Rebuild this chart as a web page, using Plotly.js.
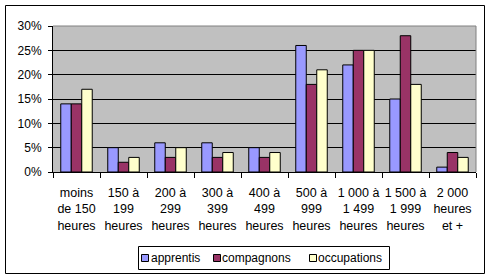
<!DOCTYPE html>
<html>
<head>
<meta charset="utf-8">
<script src="https://cdn.plot.ly/plotly-3.0.1.min.js"></script>
<style>
html,body{margin:0;padding:0;background:#fff;}
#chart{width:491px;height:279px;}
</style>
</head>
<body>
<div id="chart"></div>
<script>
var categories = [
  "moins<br>de 150<br>heures",
  "150 à<br>199<br>heures",
  "200 à<br>299<br>heures",
  "300 à<br>399<br>heures",
  "400 à<br>499<br>heures",
  "500 à<br>999<br>heures",
  "1 000 à<br>1 499<br>heures",
  "1 500 à<br>1 999<br>heures",
  "2 000<br>heures<br>et +"
];
var seriesNames = ["apprentis", "compagnons", "occupations"];
var apprentis   = [14, 5, 6, 6, 5, 26, 22, 15, 1];
var compagnons  = [14, 2, 3, 3, 3, 18, 25, 28, 4];
var occupations = [17, 3, 5, 4, 4, 21, 25, 18, 3];
var yTicks = [0, 5, 10, 15, 20, 25, 30];

var colors = ["#9999FF", "#993366", "#FFFFCC"];
var font = {family: "Liberation Sans, Arial, sans-serif", size: 12, color: "#000"};
var xfont = {family: "Liberation Sans, Arial, sans-serif", size: 12.5, color: "#000"};

var values = [apprentis, compagnons, occupations];
var data = seriesNames.map(function(name, i) {
  return {
    type: "bar", name: name, x: categories, y: values[i],
    marker: {color: colors[i], line: {color: "#000", width: 1}},
    hoverinfo: "none", showlegend: false
  };
});

// plot area geometry (px) used to place the legend box in paper coords
var L = 53, R = 476, T = 26, B = 172;
function px(x) { return (x - L) / (R - L); }
function py(y) { return (B - y) / (B - T); }

var legendSquareX = [141, 213, 309];
var legendTextX = [151, 222, 318];

var shapes = [
  {type: "line", xref: "paper", yref: "paper", x0: 0, x1: 1, y0: 1, y1: 1, line: {color: "#808080", width: 1}},
  {type: "line", xref: "paper", yref: "paper", x0: 1, x1: 1, y0: 0, y1: 1, line: {color: "#808080", width: 1}},
  {type: "rect", xref: "paper", yref: "paper", x0: px(5.5), x1: px(484.5), y0: py(273.5), y1: py(5.5), line: {color: "#000", width: 1}, layer: "above"},
  {type: "rect", xref: "paper", yref: "paper", x0: px(138.5), x1: px(389.5), y0: py(269.5), y1: py(246.5), line: {color: "#000", width: 1}, fillcolor: "#fff", layer: "above"}
];
var annotations = [];
seriesNames.forEach(function(name, i) {
  shapes.push({type: "rect", xref: "paper", yref: "paper",
    x0: px(legendSquareX[i] + 0.5), x1: px(legendSquareX[i] + 7.5),
    y0: py(261.5), y1: py(254.5),
    fillcolor: colors[i], line: {color: "#000", width: 1}, layer: "above"});
  annotations.push({xref: "paper", yref: "paper", x: px(legendTextX[i]), y: py(258),
    xanchor: "left", yanchor: "middle", showarrow: false, text: name, font: font,
    xshift: -2});
});

var layout = {
  width: 491, height: 279,
  margin: {l: L, r: 491 - R, t: T, b: 279 - B, pad: 0, autoexpand: false},
  paper_bgcolor: "#fff",
  plot_bgcolor: "#C0C0C0",
  font: font,
  barmode: "group",
  bargap: 0.33,
  bargroupgap: 0,
  showlegend: false,
  xaxis: {
    type: "category",
    showline: true, linecolor: "#000", linewidth: 1,
    ticks: "outside", tickson: "boundaries", ticklen: 5, tickcolor: "#000",
    showgrid: false, zeroline: false,
    tickangle: 0, tickfont: xfont, automargin: false,
    ticklabelstandoff: 9
  },
  yaxis: {
    range: [0, 30], tickvals: yTicks, ticktext: yTicks.map(function(v){return v + "%";}),
    showline: true, linecolor: "#000", linewidth: 1,
    ticks: "outside", ticklen: 4, tickcolor: "#000",
    showgrid: true, gridcolor: "#000", gridwidth: 1,
    zeroline: false, tickfont: font, automargin: false,
    ticklabelstandoff: 4
  },
  shapes: shapes,
  annotations: annotations
};

Plotly.newPlot("chart", data, layout, {displayModeBar: false, staticPlot: true});
</script>
</body>
</html>
